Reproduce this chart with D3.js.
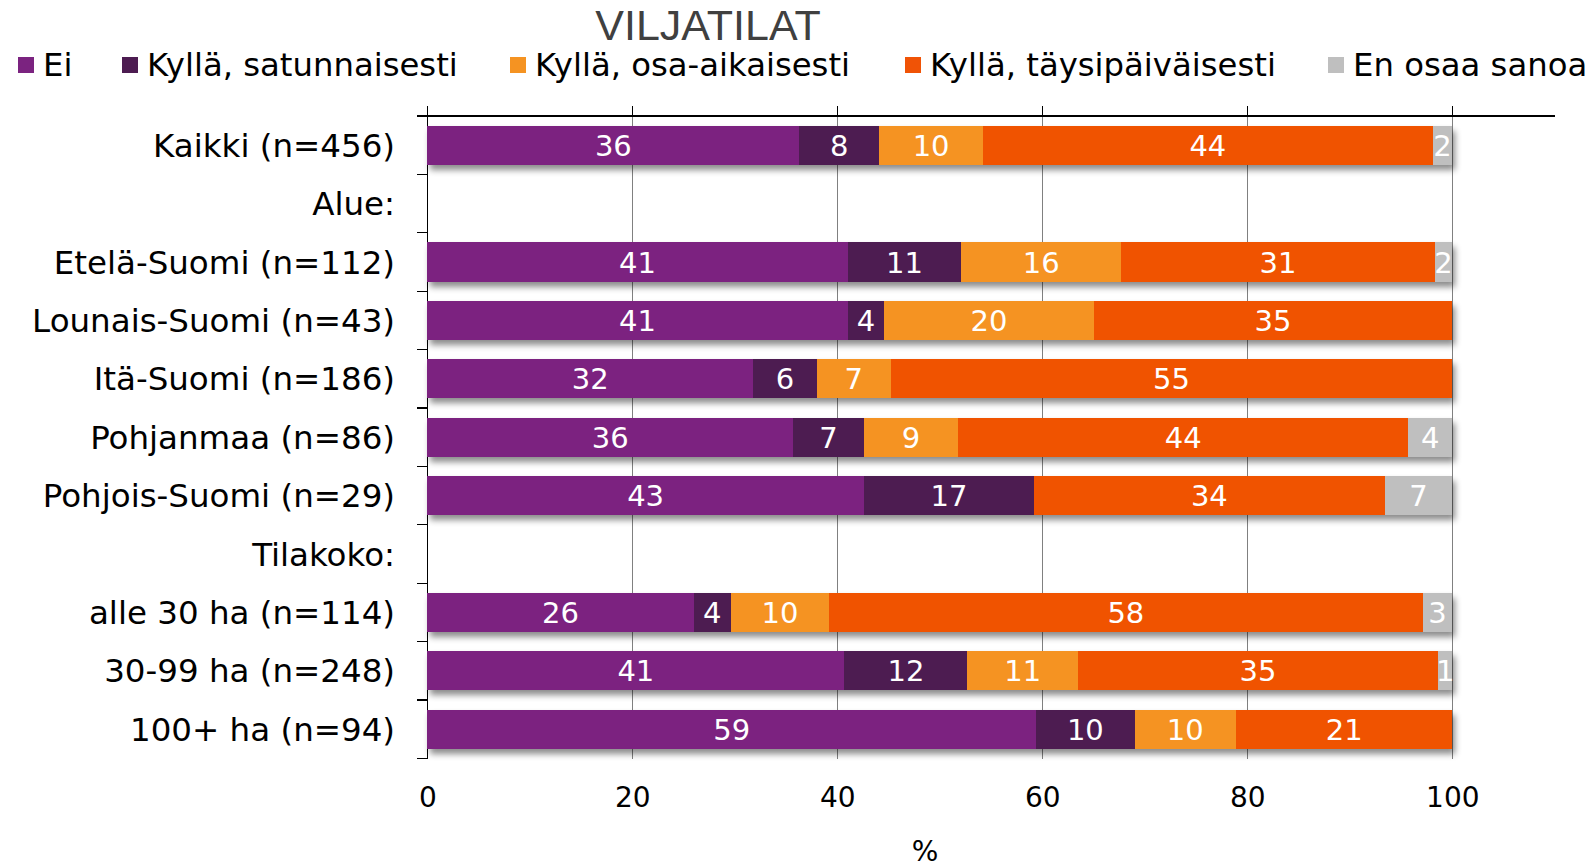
<!DOCTYPE html>
<html>
<head>
<meta charset="utf-8">
<script src="https://cdn.jsdelivr.net/npm/d3@7"></script>
<style>
  html, body { margin: 0; padding: 0; background: #fff; }
  svg { display: block; }
</style>
</head>
<body>
<svg id="chart" width="1594" height="867"></svg>
<script>
// ---------- DATA ----------
const title = "VILJATILAT";
const categories = [
  "Kaikki (n=456)", "Alue:", "Etelä-Suomi (n=112)", "Lounais-Suomi (n=43)",
  "Itä-Suomi (n=186)", "Pohjanmaa (n=86)", "Pohjois-Suomi (n=29)",
  "Tilakoko:", "alle 30 ha (n=114)", "30-99 ha (n=248)", "100+ ha (n=94)"
];
const seriesNames = ["Ei", "Kyllä, satunnaisesti", "Kyllä, osa-aikaisesti", "Kyllä, täysipäiväisesti", "En osaa sanoa"];
// percentages (labels shown rounded)
const ei               = [36.3, null, 41.0, 41.0, 31.8, 35.7, 42.6, null, 26.0, 40.7, 59.4];
const satunnaisesti    = [ 7.8, null, 11.1,  3.6,  6.2,  6.9, 16.6, null,  3.6, 12.0,  9.6];
const osaAikaisesti    = [10.1, null, 15.6, 20.4,  7.2,  9.2,  0,   null,  9.6, 10.8,  9.9];
const taysipaivaisesti = [43.9, null, 30.6, 35.0, 54.8, 43.9, 34.2, null, 57.9, 35.1, 21.1];
const enOsaaSanoa      = [ 1.9, null,  1.8,  0,    0,    4.3,  6.6, null,  2.9,  1.4,  0];
const xTicks = [0, 20, 40, 60, 80, 100];
const xAxisTitle = "%";

// ---------- STYLE / LAYOUT ----------
const colors = ["#7B2380", "#4D1C51", "#F59322", "#F05306", "#BFBFBF"];
const FONT = "'DejaVu Sans', Verdana, sans-serif";
const plot = { left: 427.3, right: 1452.3, top: 116, bottom: 758.5 };
const legendX = [18, 122, 510, 905, 1328];

const svg = d3.select("#chart");
const series = [ei, satunnaisesti, osaAikaisesti, taysipaivaisesti, enOsaaSanoa];

const x = d3.scaleLinear().domain([0, 100]).range([plot.left, plot.right]);
const y = d3.scaleBand().domain(categories).range([plot.top, plot.bottom])
  .paddingInner(0.33).paddingOuter(0.165);

// shadow filter
const defs = svg.append("defs");
const f = defs.append("filter").attr("id", "shadow")
  .attr("x", "-5%").attr("y", "-30%").attr("width", "110%").attr("height", "180%");
f.append("feDropShadow").attr("dx", 3).attr("dy", 5).attr("stdDeviation", 3)
  .attr("flood-color", "#000").attr("flood-opacity", 0.45);

// Title
svg.append("text").attr("x", 708).attr("y", 40)
  .attr("text-anchor", "middle")
  .style("font-family", "'Liberation Sans', Arial, sans-serif")
  .style("font-size", "43px").style("fill", "#404040")
  .text(title);

// Legend
seriesNames.forEach((name, i) => {
  const g = svg.append("g").attr("transform", `translate(${legendX[i]},0)`);
  g.append("rect").attr("x", 0).attr("y", 57).attr("width", 16).attr("height", 16).attr("fill", colors[i]);
  g.append("text").attr("x", 25).attr("y", 76)
    .style("font-family", FONT).style("font-size", "32.3px").style("fill", "#000")
    .text(name);
});

// Gridlines
svg.append("g").selectAll("line").data(xTicks.filter(d => d > 0)).join("line")
  .attr("x1", d => x(d)).attr("x2", d => x(d))
  .attr("y1", plot.top).attr("y2", plot.bottom)
  .attr("stroke", "#808080").attr("stroke-width", 1).attr("shape-rendering", "crispEdges");

// Top axis (ticks upward)
const topAxis = d3.axisTop(x).tickValues(xTicks).tickSize(10).tickFormat("");
const gTop = svg.append("g").attr("transform", `translate(0,${plot.top})`).call(topAxis);
gTop.select(".domain").remove();
gTop.selectAll("line").attr("stroke", "#000").attr("shape-rendering", "crispEdges");
svg.append("line").attr("x1", plot.left - 10).attr("x2", 1555)
  .attr("y1", plot.top).attr("y2", plot.top)
  .attr("stroke", "#000").attr("stroke-width", 1.2).attr("shape-rendering", "crispEdges");

// Left axis with ticks at band boundaries
svg.append("line").attr("x1", plot.left).attr("x2", plot.left)
  .attr("y1", plot.top).attr("y2", plot.bottom)
  .attr("stroke", "#000").attr("stroke-width", 1.2).attr("shape-rendering", "crispEdges");
const boundaries = d3.range(categories.length + 1).map(i => plot.top + i * (plot.bottom - plot.top) / categories.length);
svg.append("g").selectAll("line").data(boundaries).join("line")
  .attr("x1", plot.left - 10).attr("x2", plot.left)
  .attr("y1", d => d).attr("y2", d => d)
  .attr("stroke", "#000").attr("stroke-width", 1.2).attr("shape-rendering", "crispEdges");

// Category labels
svg.append("g").selectAll("text").data(categories).join("text")
  .attr("x", 395).attr("y", d => y(d) + y.bandwidth() / 2 + 11.5)
  .attr("text-anchor", "end")
  .style("font-family", FONT).style("font-size", "32.5px").style("fill", "#000")
  .text(d => d);

// Bars
const rows = categories.map((c, i) => {
  const vals = series.map(s => s[i]);
  if (vals.every(v => v == null)) return null;
  let acc = 0;
  const segs = vals.map((v, k) => {
    const s = { cat: c, k, v, x0: acc, x1: Math.min(100, acc + v) };
    acc += v;
    return s;
  });
  return { cat: c, segs };
}).filter(r => r);

const rowG = svg.append("g").selectAll("g").data(rows).join("g");
rowG.append("g").attr("filter", "url(#shadow)")
  .selectAll("rect").data(r => r.segs.filter(s => s.v > 0)).join("rect")
  .attr("x", s => x(s.x0)).attr("width", s => x(s.x1) - x(s.x0))
  .attr("y", s => y(s.cat)).attr("height", y.bandwidth())
  .attr("fill", s => colors[s.k]).attr("shape-rendering", "crispEdges");
rowG.append("g").selectAll("text").data(r => r.segs.filter(s => s.v > 0)).join("text")
  .attr("x", s => (x(s.x0) + x(s.x1)) / 2)
  .attr("y", s => y(s.cat) + y.bandwidth() / 2 + 10.5)
  .attr("text-anchor", "middle")
  .style("font-family", FONT).style("font-size", "29px").style("fill", "#fff")
  .text(s => Math.round(s.v));

// Bottom tick labels
const botAxis = d3.axisBottom(x).tickValues(xTicks).tickSize(0).tickPadding(0);
const gBot = svg.append("g").attr("transform", `translate(0,${plot.bottom})`).call(botAxis);
gBot.select(".domain").remove();
gBot.selectAll("text").attr("dy", null).attr("y", 48.5)
  .style("font-family", FONT).style("font-size", "28px").style("fill", "#000");

// Axis title
svg.append("text").attr("x", 925).attr("y", 861).attr("text-anchor", "middle")
  .style("font-family", FONT).style("font-size", "28px").style("fill", "#000")
  .text(xAxisTitle);
</script>
</body>
</html>
